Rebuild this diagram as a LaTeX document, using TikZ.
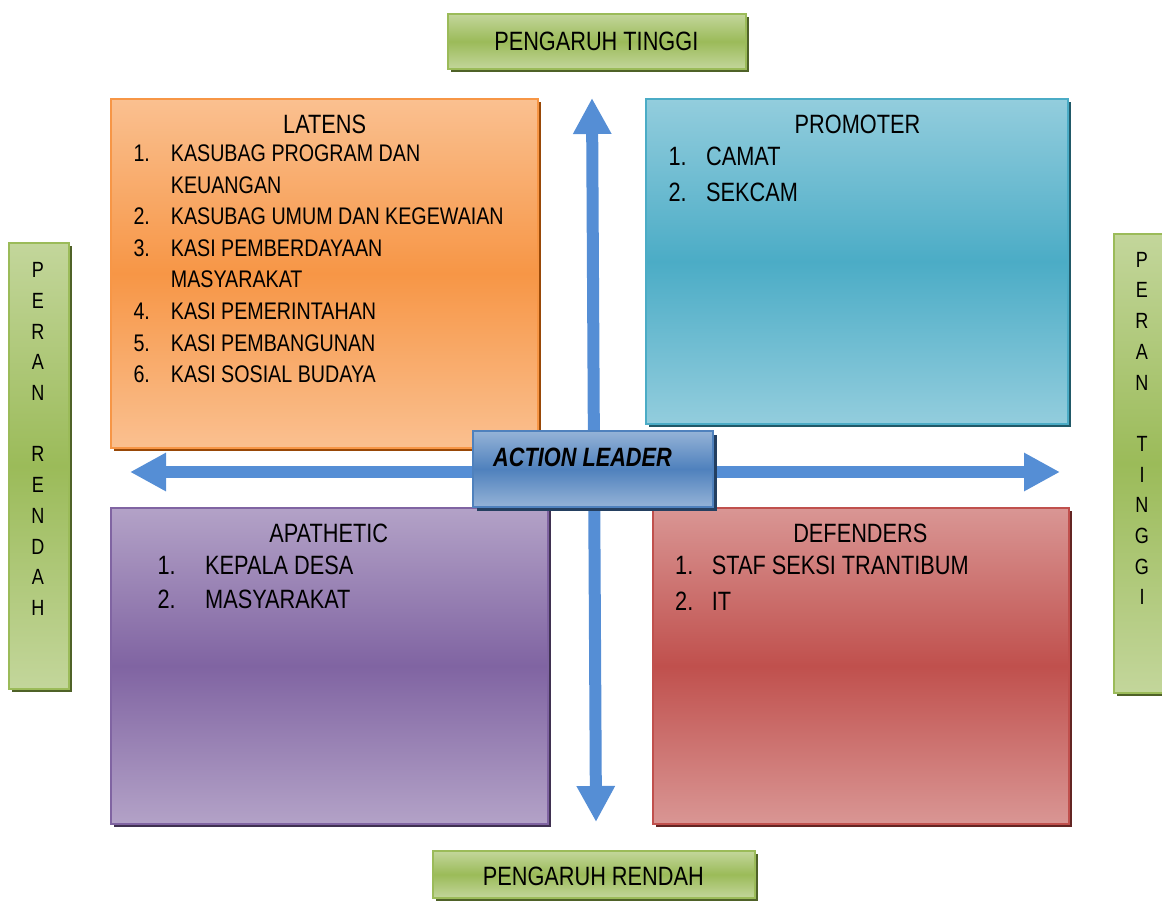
\documentclass[tikz,border=0pt]{standalone}
\usepackage{fontspec}
\setmainfont{Liberation Sans}[FakeStretch=0.82]
\usetikzlibrary{arrows.meta,shadows}
\definecolor{orL}{HTML}{FAC090}\definecolor{orM}{HTML}{F79646}\definecolor{orS}{HTML}{984807}
\definecolor{tqL}{HTML}{93CDDD}\definecolor{tqM}{HTML}{4BACC6}\definecolor{tqS}{HTML}{215968}
\definecolor{puL}{HTML}{B3A2C7}\definecolor{puM}{HTML}{8064A2}\definecolor{puS}{HTML}{3F3151}
\definecolor{rdL}{HTML}{D99694}\definecolor{rdM}{HTML}{C0504D}\definecolor{rdS}{HTML}{632523}
\definecolor{grL}{HTML}{C3D69B}\definecolor{grM}{HTML}{9BBB59}\definecolor{grS}{HTML}{4F6228}
\definecolor{blL}{HTML}{95B3D7}\definecolor{blM}{HTML}{4F81BD}\definecolor{blS}{HTML}{243F60}
\definecolor{arrowblue}{HTML}{558ED5}
\tikzset{
  panel/.style n args={4}{draw=#2, line width=2pt, top color=#1, bottom color=#1, middle color=#2,
    general shadow={fill=#3, shadow xshift=#4, shadow yshift=-#4},
    anchor=north west, inner sep=0pt},
  bigarrow/.style={line width=12pt, draw=arrowblue,
    {Triangle[length=36pt,width=36pt]}-{Triangle[length=36pt,width=36pt]}},
  ttl/.style={anchor=base, inner sep=0pt, font=\fontsize{26.5}{30}\selectfont},
  itm/.style={anchor=base west, inner sep=0pt, font=\fontsize{26.5}{30}\selectfont},
  litm/.style={anchor=base west, inner sep=0pt, font=\fontsize{24}{28}\selectfont},
  vlab/.style={align=center, inner sep=0pt, font=\fontsize{22}{30.7}\selectfont},
}
\begin{document}
\begin{tikzpicture}[x=1pt,y=-1pt]
\useasboundingbox (0,0) rectangle (1162,900);
% arrows
\coordinate (vt) at (592,98);
\coordinate (vb) at (596,822);
\coordinate (hl) at (130,472);
\coordinate (hr) at (1060,472);
\draw[bigarrow] (vt) -- (vb);
\draw[bigarrow] (hl) -- (hr);
% green labels
\node[panel={grL}{grM}{grS}{3pt}, minimum width=298pt, minimum height=55pt] (pt) at (447,13) {};
\node[ttl] (ptT) at (596.3,50.7) {PENGARUH TINGGI};
\node[panel={grL}{grM}{grS}{3pt}, minimum width=322pt, minimum height=47pt] (pr) at (432,850) {};
\node[ttl] (prT) at (593.3,885.5) {PENGARUH RENDAH};
\node[panel={grL}{grM}{grS}{3pt}, minimum width=60pt, minimum height=446pt] (rr) at (8,242) {};
\node[vlab] (rrT) at (38,439) {P\\E\\R\\A\\N\\\mbox{}\\R\\E\\N\\D\\A\\H};
\node[panel={grL}{grM}{grS}{3pt}, minimum width=60pt, minimum height=459pt] (rt) at (1113,233) {};
\node[vlab] (rtT) at (1142,428.5) {P\\E\\R\\A\\N\\\mbox{}\\T\\I\\N\\G\\G\\I};
% quadrants
\node[panel={orL}{orM}{orS}{3pt}, minimum width=427pt, minimum height=349pt] (lat) at (110,98) {};
\node[ttl] (latT) at (324.7,133.3) {LATENS};
\node[litm] (l1n) at (133.3,161.5) {1.};
\node[litm] (l1) at (170.7,161.5) {KASUBAG PROGRAM DAN};
\node[litm] (l1b) at (170.7,193.1) {KEUANGAN};
\node[litm] (l2n) at (133.3,224.7) {2.};
\node[litm] (l2) at (170.7,224.7) {KASUBAG UMUM DAN KEGEWAIAN};
\node[litm] (l3n) at (133.3,256.3) {3.};
\node[litm] (l3) at (170.7,256.3) {KASI PEMBERDAYAAN};
\node[litm] (l3b) at (170.7,287.9) {MASYARAKAT};
\node[litm] (l4n) at (133.3,319.5) {4.};
\node[litm] (l4) at (170.7,319.5) {KASI PEMERINTAHAN};
\node[litm] (l5n) at (133.3,351.1) {5.};
\node[litm] (l5) at (170.7,351.1) {KASI PEMBANGUNAN};
\node[litm] (l6n) at (133.3,382.7) {6.};
\node[litm] (l6) at (170.7,382.7) {KASI SOSIAL BUDAYA};

\node[panel={tqL}{tqM}{tqS}{3pt}, minimum width=422pt, minimum height=325pt] (pro) at (645,98) {};
\node[ttl] (proT) at (857.5,133.3) {PROMOTER};
\node[itm] (p1n) at (668.3,165) {1.};
\node[itm] (p1) at (706,165) {CAMAT};
\node[itm] (p2n) at (668.3,201.7) {2.};
\node[itm] (p2) at (706,201.7) {SEKCAM};

\node[panel={puL}{puM}{puS}{3pt}, minimum width=437pt, minimum height=316pt] (apa) at (110,507) {};
\node[ttl] (apaT) at (328.7,542.7) {APATHETIC};
\node[itm] (a1n) at (157.3,574) {1.};
\node[itm] (a1) at (205,574) {KEPALA DESA};
\node[itm] (a2n) at (157.3,608.3) {2.};
\node[itm] (a2) at (205,608.3) {MASYARAKAT};

\node[panel={rdL}{rdM}{rdS}{3pt}, minimum width=416pt, minimum height=316pt] (def) at (652,507) {};
\node[ttl] (defT) at (860.3,542.7) {DEFENDERS};
\node[itm] (d1n) at (675,574) {1.};
\node[itm] (d1) at (711.7,574) {STAF SEKSI TRANTIBUM};
\node[itm] (d2n) at (675,610) {2.};
\node[itm] (d2) at (711.7,610) {IT};

% centre
\node[panel={blL}{blM}{blS}{4pt}, minimum width=240pt, minimum height=76pt] (al) at (472,430) {};
\node[anchor=base west, inner sep=0pt, font=\fontsize{26.5}{30}\selectfont\bfseries\itshape] (alT) at (493,466.7) {ACTION LEADER};
\end{tikzpicture}
\end{document}
